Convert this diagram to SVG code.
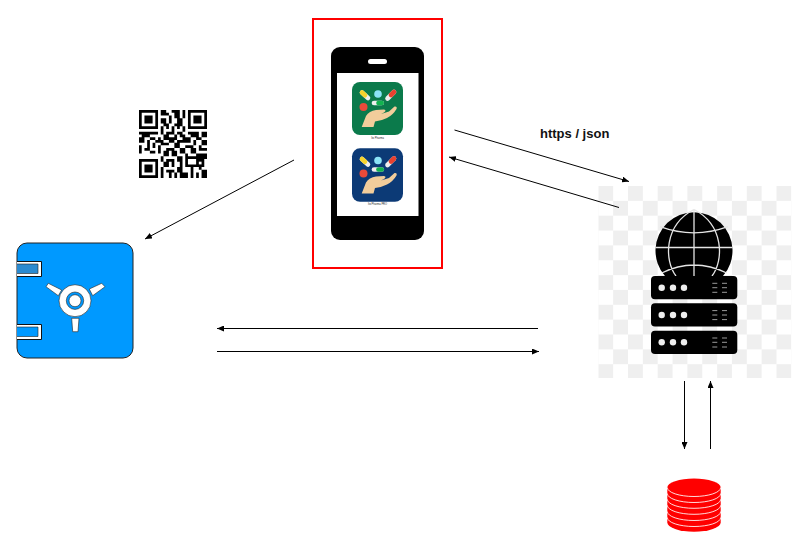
<svg xmlns="http://www.w3.org/2000/svg" width="802" height="553" viewBox="0 0 802 553">
<style>
.conn{fill:none;stroke:#000;stroke-width:1;marker-end:url(#arrow)}
.glob{fill:none;stroke:#e4e4e4;stroke-width:1.3}
.rack{fill:#000}
.dot{fill:#eee}
.grill{stroke:#999;stroke-width:1;fill:none}
.cap{font-family:"Liberation Sans",Arial,sans-serif;font-size:2.6px;fill:#222;text-anchor:middle}
.dbl{fill:none;stroke:#ffd9d9;stroke-width:1}
.pt{fill:#fff;stroke:#222;stroke-width:.6}
</style>
<defs>
<marker id="arrow" markerUnits="userSpaceOnUse" markerWidth="8" markerHeight="6" refX="7" refY="3" orient="auto"><path d="M0 0L7 3L0 6z" fill="#000"/></marker>
<pattern id="chk" patternUnits="userSpaceOnUse" x="598.3" y="186" width="29.7" height="29.7">
<rect width="29.7" height="29.7" fill="#fff"/><rect width="14.85" height="14.85" fill="#efefef"/><rect x="14.85" y="14.85" width="14.85" height="14.85" fill="#efefef"/>
</pattern>
<g id="art">
<path d="M362 92.500L368 98" stroke="#eee" stroke-width="4.600" stroke-linecap="round"/>
<path d="M362 92.500L365 95.200" stroke="#f6d32d" stroke-width="4.600" stroke-linecap="round"/>
<circle cx="378" cy="94" r="3.800" fill="#8be3f7"/>
<path d="M394 92L387.500 98.500" stroke="#eee" stroke-width="4.600" stroke-linecap="round"/>
<path d="M394 92L391 95" stroke="#e8412f" stroke-width="4.600" stroke-linecap="round"/>
<circle cx="363.500" cy="107" r="4" fill="#ea4a3a"/>
<path d="M374 103L381.700 103" stroke="#eee" stroke-width="4.700" stroke-linecap="round"/>
<path d="M378.500 103L381.700 103" stroke="#12b24f" stroke-width="4.700" stroke-linecap="round"/>
<path d="M361.700 127L366 116Q369 111 376 110L384 109.500Q387 110 384 112.500L381 114L389 111.500L394.500 106.500Q397.500 106 396.500 109Q393 115 387 118Q381 121 375 121.500L373.500 127z" fill="#f2cd9b"/>
</g>
</defs>

<g id="phone">
<rect x="313" y="19" width="129" height="249" fill="#fff" stroke="#f00" stroke-width="2"/>
<rect x="331" y="47" width="93" height="193" rx="9" fill="#000"/>
<rect x="337" y="73" width="81.500" height="143" fill="#fff"/>
<rect x="368" y="59" width="19" height="5" rx="2.500" fill="#fff"/>
<rect x="352" y="82" width="51" height="53" rx="8" fill="#0b7a4b"/>
<use href="#art"/>
<text class="cap" x="377.500" y="138.500">Ito Pharma</text>
<rect x="352" y="148.300" width="51" height="53.500" rx="8" fill="#0c3a76"/>
<use href="#art" y="66.500"/>
<text class="cap" x="377.500" y="205">Ito Pharma PRO</text>
</g>

<g id="qr">
<path transform="translate(139 110) scale(2.72)" fill="#000" d="M0 0h7v7h-7zM1 1v5h5v-5zM2 2h3v3h-3zM18 0h7v7h-7zM19 1v5h5v-5zM20 2h3v3h-3zM0 18h7v7h-7zM1 19v5h5v-5zM2 20h3v3h-3z
M8 0h2v2h-2zM12 0h3v1h-3zM16 0h1v3h-1zM10 1h1v1h-1zM13 1h2v2h-2zM8 3h2v2h-2zM11 2h1v3h-1zM14 3h2v2h-2zM9 5h2v1h-2zM13 5h3v1h-3zM8 6h1v3h-1zM10 6h1v1h-1zM12 6h1v3h-1zM14 6h1v1h-1zM16 6h1v2h-1zM10 8h2v1h-2zM14 8h2v1h-2z
M0 8h7v1h-7zM18 8h4v1h-4zM23 8h2v2h-2zM1 9h3v1h-3zM9 9h2v2h-2zM13 9h1v2h-1zM15 9h2v1h-2zM19 9h3v1h-3zM0 10h2v2h-2zM4 10h2v1h-2zM7 10h1v1h-1zM11 10h2v2h-2zM16 10h3v2h-3zM21 10h2v1h-2zM3 11h1v3h-1zM6 11h3v1h-3zM14 11h2v1h-2zM20 11h1v2h-1zM23 11h2v2h-2zM0 13h1v3h-1zM5 12h1v2h-1zM8 12h3v1h-3zM13 12h2v2h-2zM17 13h3v1h-3zM22 13h1v2h-1zM2 14h2v1h-2zM7 13h1v3h-1zM10 14h3v1h-3zM15 14h2v2h-2zM19 14h2v2h-2zM23 14h2v1h-2zM4 15h2v1h-2zM9 15h2v2h-2zM12 15h2v2h-2zM17 16h1v1h-1zM21 16h4v1h-4z
M8 17h1v2h-1zM10 18h3v1h-3zM14 17h2v2h-2zM17 17h8v1h-8zM17 18h1v3h-1zM21 18h3v3h-3zM9 19h2v2h-2zM12 19h1v2h-1zM15 19h1v2h-1zM18 20h3v1h-3zM8 21h1v4h-1zM10 22h3v1h-3zM14 21h2v2h-2zM19 21h1v4h-1zM22 21h1v1h-1zM11 23h1v2h-1zM13 23h1v2h-1zM15 23h3v2h-3zM21 23h1v2h-1zM23 22h2v3h-2z"/>
<path transform="translate(139 110) scale(2.72)" fill="#fff" d="M22 19h1v1h-1z"/>
</g>

<g id="safe">
<rect x="17" y="243" width="116" height="115" rx="10" fill="#0099ff" stroke="#222" stroke-width="1"/>
<path d="M17 261.500H41.500V276.500H17" fill="#fff" stroke="#111" stroke-width="1"/>
<rect x="17" y="264" width="21" height="9.500" fill="#2b8ad0"/>
<path d="M17 324.500H41.500V339.500H17" fill="#fff" stroke="#111" stroke-width="1"/>
<rect x="17" y="327" width="21" height="9.500" fill="#0099ff"/>
<path d="M17 264H38V273.500H17M17 327H38V336.500H17" fill="none" stroke="#222" stroke-width=".6"/>
<path class="pt" d="M48.300 283.300L61.700 290L58.300 295.700L46 286.700z"/>
<path class="pt" d="M101.700 283.300L105 286.700L92.700 295.700L89.300 289z"/>
<path class="pt" d="M71.700 318.300H79L78 331.700H72.700z"/>
<circle class="pt" cx="75" cy="300.700" r="16"/>
<circle cx="75" cy="300.700" r="8.700" fill="#0099ff" stroke="#222" stroke-width=".6"/>
<circle class="pt" cx="75" cy="300.700" r="6"/>
</g>

<g id="server">
<rect x="598.300" y="186" width="193" height="192" fill="url(#chk)"/>
<path d="M665 276A38.500 38.500 0 1 1 723 276z" fill="#000"/>
<path class="glob" d="M694 209.500V276M655.500 247.500H732.500M660 226.700Q694 239 728 226.700M661.700 273Q694 257 726.700 273M694 209.500C664 225 664 260 676 276M694 209.500C724 225 724 260 712 276"/>
<rect class="rack" x="651" y="276" width="86.300" height="23.300" rx="4"/>
<rect class="rack" x="651" y="303.300" width="86.300" height="23.300" rx="4"/>
<rect class="rack" x="651" y="330.700" width="86.300" height="23.300" rx="4"/>
<g class="dot"><circle cx="661.700" cy="287.700" r="3.200"/><circle cx="673" cy="287.700" r="3.200"/><circle cx="684" cy="287.700" r="3.200"/><circle cx="661.700" cy="315" r="3.200"/><circle cx="673" cy="315" r="3.200"/><circle cx="684" cy="315" r="3.200"/><circle cx="661.700" cy="342.300" r="3.200"/><circle cx="673" cy="342.300" r="3.200"/><circle cx="684" cy="342.300" r="3.200"/></g>
<path class="grill" d="M712.300 283.300h5M722 283.300h5M712.300 287.700h5M722 287.700h5M712.300 292.300h5M722 292.300h5M712.300 310.600h5M722 310.600h5M712.300 315h5M722 315h5M712.300 319.600h5M722 319.600h5M712.300 338h5M722 338h5M712.300 342.300h5M722 342.300h5M712.300 347h5M722 347h5"/>
</g>

<g id="database">
<path d="M667.300 487.500A26.700 9 0 0 1 720.700 487.500V522.500A26.700 9.200 0 0 1 667.300 522.500z" fill="#f00"/>
<path class="dbl" d="M667.300 487.500A26.700 9 0 0 0 720.700 487.500M667.300 493.500A26.700 9 0 0 0 720.700 493.500M667.300 499.300A26.700 9 0 0 0 720.700 499.300M667.300 505.300A26.700 9 0 0 0 720.700 505.300M667.300 511.500A26.700 9 0 0 0 720.700 511.500M667.300 517.500A26.700 9 0 0 0 720.700 517.500"/>
</g>

<g id="connectors">
<path class="conn" d="M294 160L145 239"/>
<path class="conn" d="M454.500 130L629 181.500"/>
<path class="conn" d="M619 207.500L449 157"/>
<path class="conn" d="M538 328.500H217"/>
<path class="conn" d="M217 351.500H539"/>
<path class="conn" d="M684.500 381V449"/>
<path class="conn" d="M710.500 449V381"/>
</g>

<text x="540" y="138" font-family="'Liberation Sans',Arial,sans-serif" font-size="13" font-weight="bold" fill="#111">https / json</text>
</svg>
